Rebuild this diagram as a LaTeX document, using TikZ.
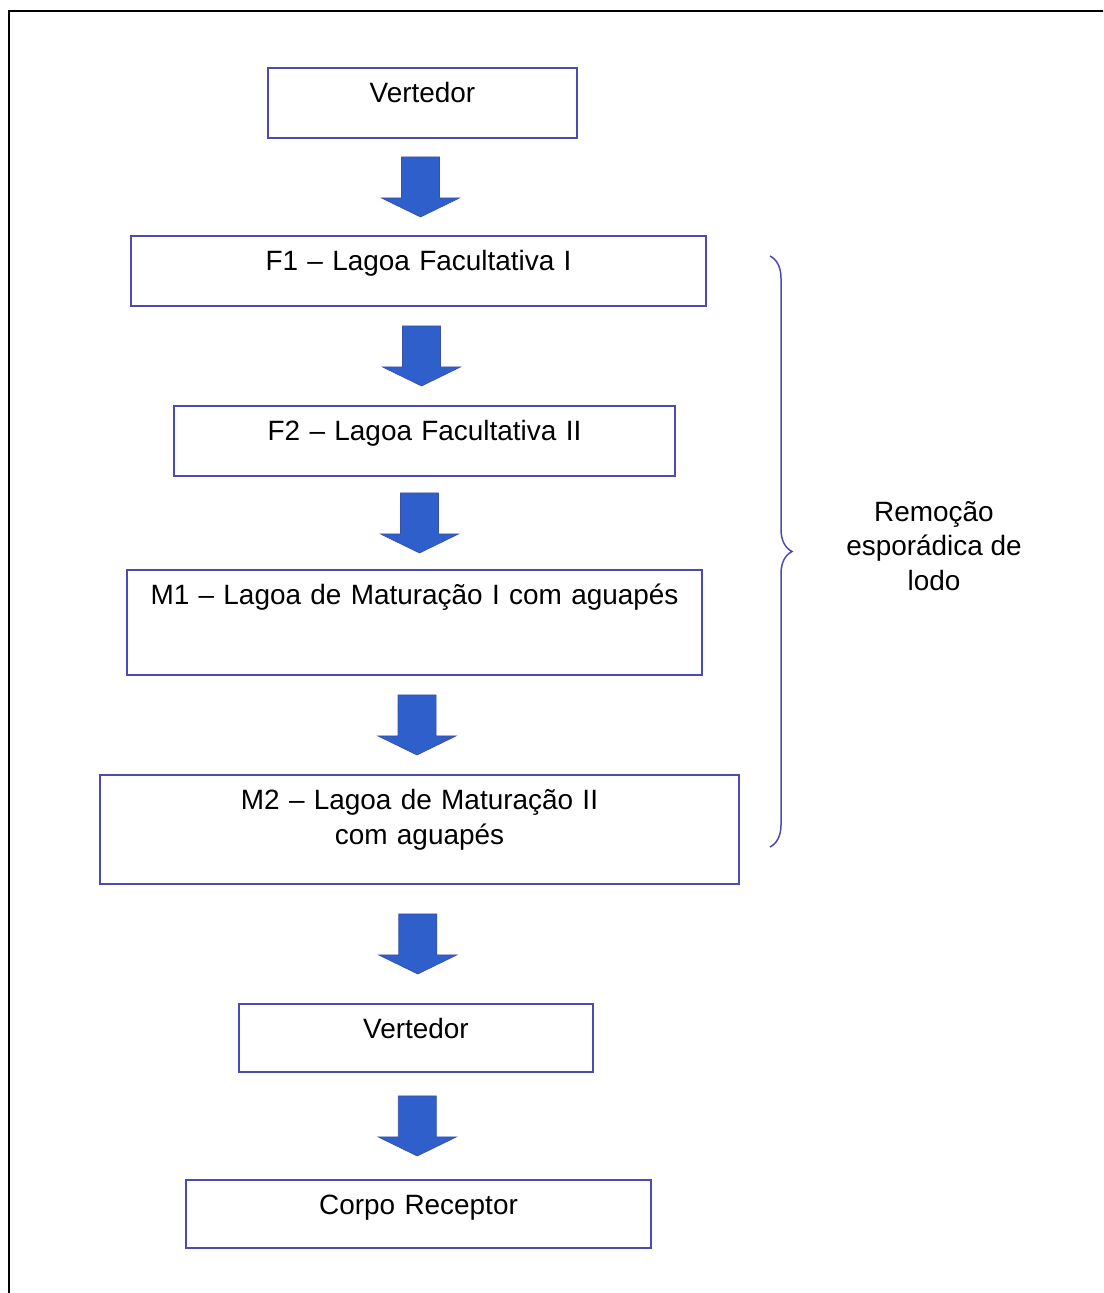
\documentclass[tikz,border=0pt]{standalone}
\usepackage{fontspec}
\setmainfont{Liberation Sans}
\usetikzlibrary{positioning,calc,decorations.pathreplacing}
\definecolor{BoxIndigo}{HTML}{4B4BB0}
\definecolor{ArrowBlue}{HTML}{2F5FCA}
\definecolor{ArrowEdge}{HTML}{3B4FA8}

\begin{document}
\begin{tikzpicture}[x=0.02cm, y=-0.02cm, every node/.style={font=\fontsize{15.9}{19.8}\selectfont},
  tanque/.style 2 args={draw=BoxIndigo, line width=1.1pt, rectangle, inner sep=0pt, anchor=north, text width=#1, align=center, text height=0.7cm, text depth=#2},
  seta/.style={fill=ArrowBlue, draw=ArrowEdge, line width=0.4pt, line join=miter},
  chave/.style={draw=BoxIndigo, line width=0.85pt, decorate, decoration={brace, amplitude=0.44cm}}]
  \useasboundingbox (0,0) rectangle (1103,1293);
  \clip (0,0) rectangle (1103,1293);
  \draw[black, line width=0.04cm] (9,11) rectangle (1130,1320);

  % Lagoas
  \node [tanque={6.18cm}{0.7cm}] (vert1) at (422.5,67) {Vertedor};
  \node [tanque={11.5cm}{0.7cm}] (f1) at (418.5,235) {F1 -- Lagoa Facultativa I};
  \node [tanque={10.02cm}{0.7cm}] (f2) at (424.5,405) {F2 -- Lagoa Facultativa II};
  \node [tanque={11.5cm}{1.4cm}] (m1) at (414.5,569) {M1 -- Lagoa de Maturação I com aguapés};
  \node [tanque={12.78cm}{1.48cm}] (m2) at (419.5,774) {M2 -- Lagoa de Maturação II\\com aguapés};
  \node [tanque={7.08cm}{0.66cm}] (vert2) at (416,1003) {Vertedor};
  \node [tanque={9.3cm}{0.66cm}] (corpo) at (418.5,1179) {Corpo Receptor};

  % Setas
  \foreach \de/\para in {vert1/f1, f1/f2, f2/m1, m1/m2, m2/vert2, vert2/corpo} {
    \coordinate (meio) at ($(\de.south)!0.5!(\para.north)$);
    \filldraw [seta] ($(meio)+(-19,-30)$) -- ($(meio)+(19,-30)$) -- ($(meio)+(19,11)$) -- ($(meio)+(39,11)$)
      -- ($(meio)+(0,30)$) -- ($(meio)+(-39,11)$) -- ($(meio)+(-19,11)$) -- cycle;
  }

  % Chave
  \coordinate (chavetopo) at (770,256);
  \coordinate (chavebase) at (770,847);
  \draw [chave] (chavetopo) -- (chavebase);
  \node [align=center] (remocao) at (934,546) {Remoção\\esporádica de\\lodo};
\end{tikzpicture}
\end{document}
